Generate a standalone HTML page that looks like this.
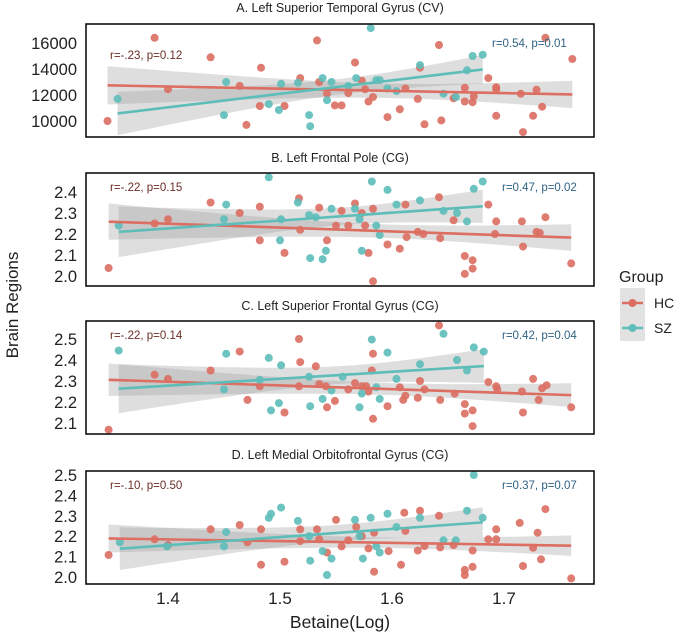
<!DOCTYPE html>
<html><head><meta charset="utf-8">
<style>
html,body{margin:0;padding:0;background:#fff;}
svg{display:block;font-family:"Liberation Sans",sans-serif;}
</style></head>
<body>
<svg id="chart" width="675" height="634" viewBox="0 0 675 634"></svg>
<script>
// ---- data ----
const xTicks = [1.4, 1.5, 1.6, 1.7];
const panelTitles = ["A. Left Superior Temporal Gyrus (CV)","B. Left Frontal Pole (CG)","C. Left Superior Frontal Gyrus (CG)","D. Left Medial Orbitofrontal Gyrus (CG)"];
const hcStats = ["r=-.23, p=0.12","r=-.22, p=0.15","r=-.22, p=0.14","r=-.10, p=0.50"];
const szStats = ["r=0.54, p=0.01","r=0.47, p=0.02","r=0.42, p=0.04","r=0.37, p=0.07"];
const yTicksA = [10000,12000,14000,16000];
const yTicksB = [2.0,2.1,2.2,2.3,2.4];
const yTicksC = [2.1,2.2,2.3,2.4,2.5];
const yTicksD = [2.0,2.1,2.2,2.3,2.4,2.5];

const hcXA=[1.346,1.388,1.40,1.438,1.464,1.47,1.483,1.482,1.504,1.518,1.533,1.535,1.542,1.549,1.555,1.567,1.561,1.573,1.576,1.579,1.583,1.596,1.607,1.612,1.623,1.625,1.629,1.642,1.644,1.655,1.665,1.665,1.672,1.673,1.686,1.693,1.693,1.737,1.761,1.693,1.715,1.729,1.734,1.726,1.717];
const hcYA=[10000,16400,12450,14900,12700,9700,14100,11150,11150,13300,16200,13000,12100,11200,11200,14500,12150,13100,12450,11500,11850,10300,10900,12500,11700,14100,9750,15850,10050,11750,12550,11500,11450,11900,13300,10400,12600,16400,14770,12450,12100,12400,11100,10400,9150];
const szXA=[1.355,1.452,1.45,1.49,1.499,1.501,1.516,1.526,1.527,1.538,1.542,1.546,1.561,1.568,1.581,1.586,1.589,1.596,1.604,1.625,1.646,1.657,1.667,1.672,1.681];
const szYA=[11700,13000,10450,11300,10850,12850,12950,10450,9600,13300,11600,13000,12700,13300,17150,13150,13150,12500,12300,14300,12100,11850,13900,15000,15100];

const hcXB=[1.347,1.388,1.40,1.438,1.464,1.482,1.482,1.504,1.517,1.518,1.535,1.542,1.55,1.555,1.567,1.561,1.573,1.583,1.576,1.579,1.583,1.596,1.607,1.612,1.613,1.623,1.628,1.642,1.643,1.655,1.665,1.672,1.665,1.672,1.686,1.693,1.692,1.716,1.717,1.729,1.732,1.737,1.76];
const hcYB=[2.038,2.25,2.27,2.35,2.30,2.33,2.17,2.11,2.37,2.22,2.325,2.17,2.24,2.31,2.345,2.24,2.30,2.32,2.24,2.11,1.975,2.15,2.13,2.34,2.185,2.21,2.20,2.375,2.18,2.265,2.095,2.075,2.01,2.035,2.34,2.26,2.20,2.26,2.14,2.21,2.205,2.28,2.06];
const szXB=[1.356,1.452,1.45,1.49,1.50,1.501,1.516,1.526,1.532,1.546,1.541,1.527,1.538,1.582,1.596,1.604,1.625,1.646,1.658,1.667,1.673,1.681,1.567,1.571,1.586,1.589,1.573];
const szYB=[2.24,2.34,2.27,2.47,2.17,2.27,2.35,2.29,2.28,2.32,2.12,2.085,2.08,2.45,2.41,2.34,2.36,2.31,2.30,2.26,2.415,2.45,2.32,2.27,2.24,2.195,2.12];

const hcXC=[1.347,1.388,1.40,1.438,1.464,1.471,1.482,1.504,1.517,1.518,1.517,1.532,1.535,1.542,1.549,1.541,1.642,1.583,1.582,1.567,1.561,1.573,1.577,1.579,1.583,1.596,1.607,1.612,1.61,1.623,1.625,1.629,1.643,1.656,1.665,1.672,1.665,1.672,1.686,1.693,1.694,1.716,1.717,1.726,1.731,1.734,1.738,1.76];
const hcYC=[2.068,2.33,2.31,2.35,2.44,2.21,2.275,2.15,2.50,2.39,2.275,2.37,2.285,2.175,2.205,2.275,2.565,2.43,2.35,2.29,2.26,2.275,2.275,2.25,2.12,2.18,2.27,2.23,2.21,2.22,2.30,2.26,2.21,2.24,2.19,2.16,2.145,2.085,2.295,2.275,2.26,2.25,2.15,2.31,2.21,2.265,2.28,2.175];
const szXC=[1.356,1.452,1.45,1.49,1.501,1.482,1.499,1.492,1.526,1.527,1.538,1.546,1.582,1.646,1.596,1.625,1.658,1.673,1.682,1.667,1.604,1.586,1.573,1.589,1.571,1.556];
const szYC=[2.445,2.43,2.26,2.41,2.375,2.305,2.195,2.16,2.32,2.18,2.215,2.255,2.497,2.525,2.435,2.38,2.40,2.46,2.44,2.35,2.31,2.27,2.24,2.215,2.175,2.32];

const hcXD=[1.347,1.388,1.40,1.438,1.464,1.471,1.483,1.483,1.504,1.518,1.518,1.533,1.535,1.542,1.55,1.555,1.561,1.568,1.573,1.579,1.584,1.584,1.597,1.608,1.611,1.612,1.623,1.625,1.629,1.642,1.643,1.655,1.665,1.665,1.672,1.672,1.686,1.693,1.693,1.714,1.737,1.73,1.726,1.733,1.717,1.76];
const hcYD=[2.108,2.185,2.157,2.234,2.255,2.17,2.234,2.06,2.075,2.176,2.234,2.234,2.185,2.12,2.28,2.15,2.18,2.245,2.20,2.14,2.217,2.026,2.127,2.06,2.315,2.226,2.13,2.325,2.152,2.30,2.145,2.157,2.035,2.01,2.13,2.05,2.185,2.185,2.234,2.265,2.333,2.217,2.143,2.087,2.054,1.993];
const szXD=[1.357,1.399,1.45,1.452,1.49,1.492,1.501,1.516,1.526,1.527,1.538,1.542,1.546,1.567,1.571,1.574,1.581,1.586,1.589,1.596,1.604,1.625,1.646,1.657,1.667,1.673,1.681];
const szYD=[2.17,2.15,2.15,2.22,2.29,2.31,2.34,2.275,2.20,2.08,2.127,2.01,2.09,2.28,2.20,2.09,2.29,2.15,2.12,2.31,2.245,2.29,2.18,2.18,2.325,2.50,2.29];

// ---- layout ----
const NS="http://www.w3.org/2000/svg";
const svg=document.getElementById('chart');
const PL=86, PR=594;
const HC="#dc6e62", SZ="#5dbdb9";
function xs(v){return 168+(v-1.4)*1120;}
const panels=[
 {top:24,bot:137,yT:yTicksA,ys:v=>43+(16000-v)/1000*13,fmt:v=>String(v),hx:hcXA,hy:hcYA,sx:szXA,sy:szYA,titleY:12},
 {top:173,bot:286,yT:yTicksB,ys:v=>192+(2.4-v)*210,fmt:v=>v.toFixed(1),hx:hcXB,hy:hcYB,sx:szXB,sy:szYB,titleY:162},
 {top:321,bot:434,yT:yTicksC,ys:v=>339+(2.5-v)*210,fmt:v=>v.toFixed(1),hx:hcXC,hy:hcYC,sx:szXC,sy:szYC,titleY:310},
 {top:471,bot:584,yT:yTicksD,ys:v=>475+(2.5-v)*204,fmt:v=>v.toFixed(1),hx:hcXD,hy:hcYD,sx:szXD,sy:szYD,titleY:459}
];
function el(tag,attrs,parent){const e=document.createElementNS(NS,tag);for(const k in attrs)e.setAttribute(k,attrs[k]);(parent||svg).appendChild(e);return e;}

function fit(X,Y){
 const n=X.length;let mx=0,my=0;for(let i=0;i<n;i++){mx+=X[i];my+=Y[i];}mx/=n;my/=n;
 let sxx=0,sxy=0;for(let i=0;i<n;i++){sxx+=(X[i]-mx)**2;sxy+=(X[i]-mx)*(Y[i]-my);}
 const b=sxy/sxx,a=my-b*mx;let sse=0;for(let i=0;i<n;i++)sse+=(Y[i]-a-b*X[i])**2;
 const s=Math.sqrt(sse/(n-2));
 return {a,b,s,n,mx,sxx,min:Math.min(...X),max:Math.max(...X)};
}

panels.forEach((p,pi)=>{
 const g=el('g',{});
 
 
 const t=el('text',{x:340,y:p.titleY,'text-anchor':'middle','font-size':12.5,fill:'#222'},g);
 t.textContent=panelTitles[pi];
 
 
 const cid='clip'+pi;
 const cp=el('clipPath',{id:cid},g);el('rect',{x:PL,y:p.top,width:PR-PL,height:p.bot-p.top},cp);
 const plot=el('g',{'clip-path':'url(#'+cid+')'},g);
 const fits=[[p.hx,p.hy,HC,'hc'],[p.sx,p.sy,SZ,'sz']].map(([X,Y,c,nm])=>({f:fit(X,Y),c,nm}));
 fits.forEach(({f,nm})=>{
  const N=40,up=[],lo=[];
  for(let i=0;i<=N;i++){const x=f.min+(f.max-f.min)*i/N;const yh=f.a+f.b*x;
   const se=f.s*Math.sqrt(1/f.n+(x-f.mx)**2/f.sxx);
   up.push(xs(x).toFixed(1)+','+p.ys(yh+2.02*se).toFixed(1));lo.unshift(xs(x).toFixed(1)+','+p.ys(yh-2.02*se).toFixed(1));}
  const b=el('polygon',{points:up.concat(lo).join(' '),fill:'#9a9a9a','fill-opacity':0.33},plot);
  
  
 });
 [[p.hx,p.hy,HC,'hc'],[p.sx,p.sy,SZ,'sz']].forEach(([X,Y,c,nm])=>{
  X.forEach((x,i)=>{
   const d=el('circle',{cx:xs(x).toFixed(1),cy:p.ys(Y[i]).toFixed(1),r:4,fill:c,'fill-opacity':0.9},plot);
   
   
  });
 });
 fits.forEach(({f,c,nm})=>{
  const l=el('line',{x1:xs(f.min),y1:p.ys(f.a+f.b*f.min),x2:xs(f.max),y2:p.ys(f.a+f.b*f.max),stroke:c,'stroke-width':2.6},plot);
  
  
 });
 const fr=el('rect',{x:PL,y:p.top,width:PR-PL,height:p.bot-p.top,fill:'none',stroke:'#111','stroke-width':1.6},g);
 
 
 const cy=(p.top+14);
 const ht=el('text',{x:110,y:(pi===0?59:cy+4),'font-size':11.5,fill:'#6a2c24'},g);
 ht.textContent=hcStats[pi];
 
 
 const st=el('text',{x:(pi===0?492:502),y:(pi===0?47:cy+4),'font-size':11.5,fill:'#2f6282'},g);
 st.textContent=szStats[pi];
 
 
 p.yT.forEach(v=>{
  const tl=el('text',{x:77,y:p.ys(v)+6,'text-anchor':'end','font-size':16.5,fill:'#222'},g);
  tl.textContent=p.fmt(v);
  
  
 });
});
xTicks.forEach(v=>{
 const t=el('text',{x:xs(v),y:604,'text-anchor':'middle','font-size':17,fill:'#222'});
 t.textContent=v.toFixed(1);
 
 
});
</script>
<div style="position:absolute;left:0;top:0;width:675px;height:634px;pointer-events:none">
<svg width="675" height="634" style="position:absolute;left:0;top:0">
 <text x="340" y="628" text-anchor="middle" font-size="17.5" fill="#222" font-family="Liberation Sans, sans-serif">Betaine(Log)</text>
 <text x="0" y="0" transform="translate(18,305) rotate(-90)" text-anchor="middle" font-size="17" fill="#222" font-family="Liberation Sans, sans-serif">Brain Regions</text>
 <g font-family="Liberation Sans, sans-serif">
  <text x="619" y="282" font-size="16" fill="#222">Group</text>
  <rect x="620" y="288" width="25" height="53" fill="#e2e2e2"/>
  <g>
   <line x1="622" y1="303" x2="643" y2="303" stroke="#dc6e62" stroke-width="2.6"/>
   <circle cx="632.5" cy="303" r="4" fill="#dc6e62"/>
   <text x="654" y="308" font-size="14" fill="#222">HC</text>
  </g>
  <g>
   <line x1="622" y1="328" x2="643" y2="328" stroke="#5dbdb9" stroke-width="2.6"/>
   <circle cx="632.5" cy="328" r="4" fill="#5dbdb9"/>
   <text x="654" y="333" font-size="14" fill="#222">SZ</text>
  </g>
 </g>
</svg>
</div>
</body></html>
